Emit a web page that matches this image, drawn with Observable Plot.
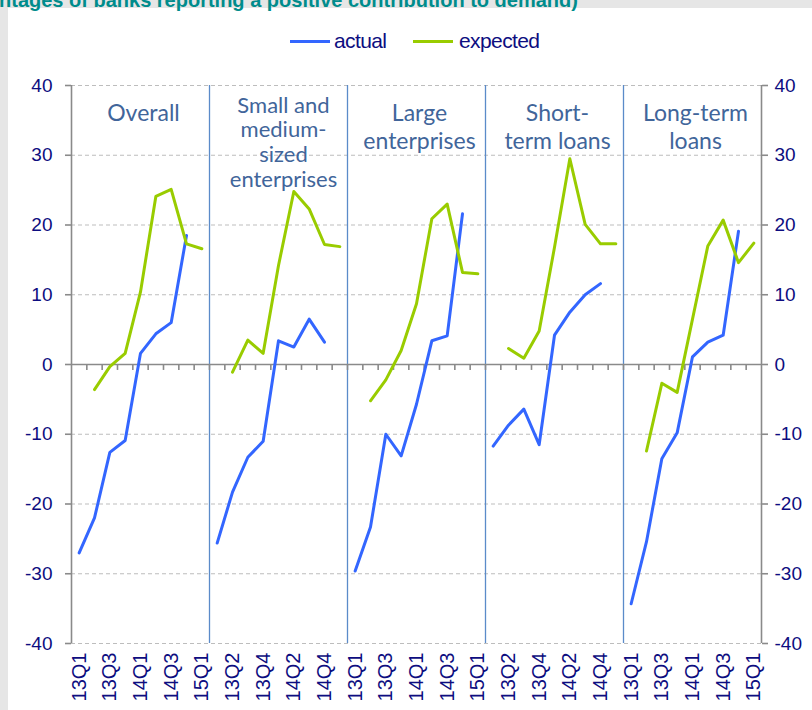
<!DOCTYPE html>
<html>
<head>
<meta charset="utf-8">
<script src="https://cdn.jsdelivr.net/npm/d3@7"></script>
<script src="https://cdn.jsdelivr.net/npm/@observablehq/plot@0.6"></script>
<style>
  body { margin: 0; }
  #page { position: relative; width: 812px; height: 710px; background: #e6e6e6; overflow: hidden; font-family: "Liberation Sans", Arial, sans-serif; }
  #white { position: absolute; left: 8px; top: 8px; width: 804px; height: 702px; background: #fff; }
  #title { position: absolute; left: -1px; top: -10px; font-weight: bold; font-size: 20px; line-height: 20px; color: #008c8c; white-space: nowrap; }
  .sw { position: absolute; top: 40px; height: 3px; width: 40px; }
  .lt { position: absolute; top: 29px; font-size: 21px; line-height: 24px; letter-spacing: -0.6px; color: #0d0d80; }
  #chart { position: absolute; left: 0; top: 62px; }
</style>
</head>
<body>
<div id="page">
  <div id="white"></div>
  <div id="title">ntages of banks reporting a positive contribution to demand)</div>
  <div class="sw" style="left:290px;background:#3366ff"></div>
  <div class="lt" style="left:334px">actual</div>
  <div class="sw" style="left:413px;background:#99cc00"></div>
  <div class="lt" style="left:459px">expected</div>
  <div id="chart"></div>
</div>
<script>
const quarters = ["13Q1","13Q2","13Q3","13Q4","14Q1","14Q2","14Q3","14Q4","15Q1"];
const panelLabels = ["Overall", "Small and\nmedium-\nsized\nenterprises", "Large\nenterprises", "Short-\nterm loans", "Long-term\nloans"];
const yTicks = [-40, -30, -20, -10, 0, 10, 20, 30, 40];

const actualOverall = [-27.0, -22.0, -12.6, -10.9, 1.6, 4.4, 6.0, 18.5, null];
const actualSME     = [-25.6, -18.3, -13.3, -11.0, 3.4, 2.5, 6.5, 3.2, null];
const actualLarge   = [-29.6, -23.3, -10.0, -13.1, -5.7, 3.4, 4.1, 21.6, null];
const actualShort   = [-11.7, -8.7, -6.4, -11.5, 4.2, 7.5, 10.0, 11.6, null];
const actualLong    = [-34.3, -25.4, -13.5, -9.8, 1.1, 3.2, 4.2, 19.1, null];

const expectedOverall = [null, -3.6, -0.3, 1.6, 10.4, 24.1, 25.1, 17.3, 16.6];
const expectedSME     = [null, -1.1, 3.5, 1.6, 14.2, 24.8, 22.3, 17.2, 16.9];
const expectedLarge   = [null, -5.2, -2.2, 2.0, 8.7, 20.9, 23.0, 13.2, 13.0];
const expectedShort   = [null, 2.3, 0.9, 4.8, 16.8, 29.5, 20.1, 17.3, 17.3];
const expectedLong    = [null, -12.4, -2.7, -4.0, 6.5, 17.0, 20.7, 14.6, 17.4];

const actualSeries = [actualOverall, actualSME, actualLarge, actualShort, actualLong];
const expectedSeries = [expectedOverall, expectedSME, expectedLarge, expectedShort, expectedLong];

const nQ = quarters.length, nP = panelLabels.length, N = nQ * nP;

function toRows(series) {
  const rows = [];
  series.forEach((arr, p) => arr.forEach((v, i) => {
    if (v != null) rows.push({panel: p, pos: p * nQ + i + 0.5, value: v});
  }));
  return rows;
}
const actualRows = toRows(actualSeries);
const expectedRows = toRows(expectedSeries);
const panelRows = panelLabels.map((t, p) => ({pos: p * nQ + nQ / 2, text: t, lines: t.split("\n").length}));
const shortLabels = panelRows.filter(d => d.lines <= 2);
const longLabels = panelRows.filter(d => d.lines > 2);
const separators = d3.range(1, nP).map(p => p * nQ);
const boundaries = d3.range(1, N);
const xTickPos = d3.range(0, N, 2).map(g => g + 0.5);

const axisColor = "#8a8a8a";
const labelColor = "#0d0d80";
const panelFont = "Lato, 'Open Sans', sans-serif";

const chart = Plot.plot({
  width: 812,
  height: 648,
  marginLeft: 71,
  marginRight: 51,
  marginTop: 23,
  marginBottom: 67,
  style: {fontFamily: "'Liberation Sans', Arial, sans-serif", fontSize: "19px", background: "transparent", overflow: "visible"},
  x: {domain: [0, N]},
  y: {domain: [-40, 40]},
  marks: [
    Plot.ruleY(yTicks.filter(d => d !== 0), {stroke: "#bdbdbd", strokeDasharray: "4,3", strokeWidth: 1.2}),
    Plot.ruleX(separators, {y1: -40, y2: 40, stroke: "#5b8bc9", strokeWidth: 1.3}),
    Plot.ruleY([0], {stroke: axisColor, strokeWidth: 1.6}),
    Plot.ruleX(boundaries, {y1: 0, y2: -0.85, stroke: axisColor, strokeWidth: 1.6}),
    Plot.ruleX([0, N], {y1: -40, y2: 40, stroke: axisColor, strokeWidth: 1.6}),
    Plot.axisY({anchor: "left", ticks: yTicks, tickSize: 6, tickPadding: 13, stroke: axisColor, strokeWidth: 1.6, fill: labelColor, tickFormat: d => String(d), label: null}),
    Plot.axisY({anchor: "right", ticks: yTicks, tickSize: 6, tickPadding: 7, stroke: axisColor, strokeWidth: 1.6, fill: labelColor, tickFormat: d => String(d), label: null}),
    Plot.axisX({ticks: xTickPos, tickFormat: d => quarters[Math.floor(d) % nQ], tickRotate: -90, tickSize: 0, tickPadding: 9, fontSize: 20, fill: labelColor, label: null}),
    Plot.line(actualRows, {x: "pos", y: "value", z: "panel", stroke: "#3366ff", strokeWidth: 3}),
    Plot.line(expectedRows, {x: "pos", y: "value", z: "panel", stroke: "#99cc00", strokeWidth: 3}),
    Plot.text(shortLabels, {x: "pos", y: 37.8, text: "text", lineAnchor: "top", lineHeight: 1.22, fontSize: 23, fontFamily: panelFont, fill: "#41659a", dx: 3}),
    Plot.text(longLabels, {x: "pos", y: 38.6, text: "text", lineAnchor: "top", lineHeight: 1.12, fontSize: 22, fontFamily: panelFont, fill: "#41659a", dx: 5})
  ]
});
document.getElementById("chart").appendChild(chart);
</script>
</body>
</html>
